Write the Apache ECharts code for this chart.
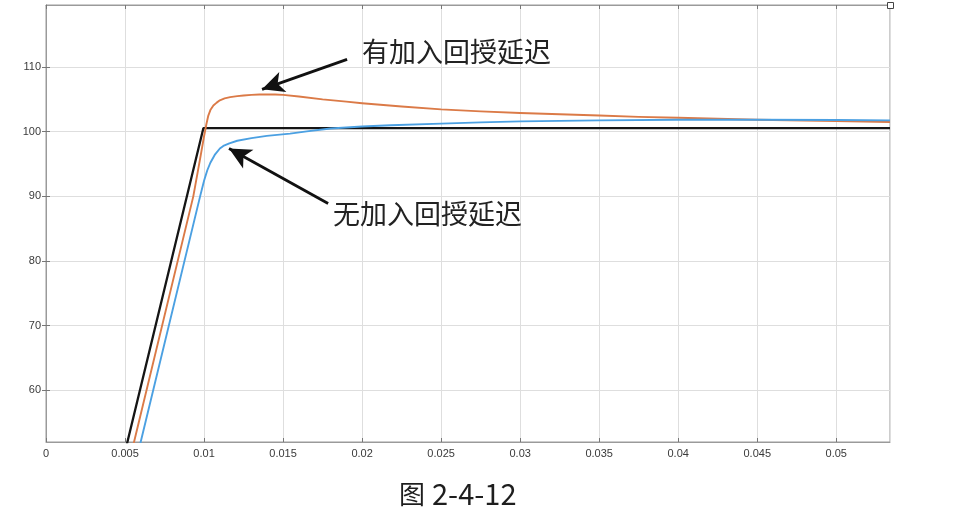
<!DOCTYPE html>
<html>
<head>
<meta charset="utf-8">
<script src="https://cdn.jsdelivr.net/npm/echarts@6/dist/echarts.min.js"></script>
<style>
html,body{margin:0;padding:0;background:#fff;}
#main{width:954px;height:523px;}
</style>
</head>
<body>
<div id="main"></div>
<script>
// ---- data ----
const yTicks = [60, 70, 80, 90, 100, 110];

// reference (black)
const tRef = [0, 0.00996, 0.0534];
const vRef = [0, 100.56, 100.56];

// with feedback delay (orange)
const tDelay = [0.0004, 0.00557, 0.00932, 0.0098, 0.0100, 0.01015, 0.01027, 0.0104, 0.01059, 0.0108, 0.0110, 0.0113, 0.01165, 0.0121, 0.0125, 0.0130, 0.0135, 0.0140, 0.0145, 0.0150, 0.0160, 0.0175, 0.0190, 0.0200, 0.0225, 0.0250, 0.0275, 0.0300, 0.0325, 0.0350, 0.0375, 0.0400, 0.0450, 0.0500, 0.0534];
const vDelay = [0, 52, 90, 96.5, 99.3, 101.2, 102.5, 103.35, 104.05, 104.5, 104.85, 105.15, 105.35, 105.5, 105.6, 105.7, 105.75, 105.78, 105.75, 105.7, 105.45, 105.0, 104.65, 104.4, 103.9, 103.45, 103.15, 102.9, 102.7, 102.5, 102.3, 102.15, 101.85, 101.65, 101.5];

// without feedback delay (blue)
const tNoDelay = [0.0008, 0.00599, 0.00975, 0.0100, 0.0102, 0.0104, 0.0107, 0.0110, 0.01122, 0.0116, 0.0121, 0.0130, 0.01397, 0.01544, 0.0165, 0.0180, 0.0200, 0.0218, 0.0250, 0.0275, 0.0300, 0.0350, 0.0400, 0.0450, 0.0500, 0.0534];
const vNoDelay = [0, 52, 90, 92.4, 94.0, 95.2, 96.5, 97.4, 97.8, 98.2, 98.6, 99.0, 99.35, 99.7, 100.05, 100.5, 100.8, 101.0, 101.25, 101.45, 101.6, 101.75, 101.85, 101.85, 101.8, 101.75];

const labelDelay = '有加入回授延迟';
const labelNoDelay = '无加入回授延迟';
const captionFig = '图';
const captionNum = '2-4-12';

// arrow endpoints in data units [tail, tip]
const arrowDelay = [[0.01905, 111.19], [0.01367, 106.55]];
const arrowNoDelay = [[0.01785, 88.9], [0.01158, 97.41]];

const zip = (a, b) => a.map((v, i) => [v, b[i]]);

const chart = echarts.init(document.getElementById('main'), null, {renderer: 'canvas'});

const axisFont = {fontFamily: 'Liberation Sans, Arial, sans-serif', fontSize: 11, color: '#3a3a3a'};
const gridColor = '#dedede';
const boxColor = '#9a9a9a';

const arrowLine = (pts) => [
  {coord: pts[0], symbol: 'none'},
  {coord: pts[1], symbol: 'arrow', symbolSize: [16, 22]}
];

const option = {
  animation: false,
  backgroundColor: '#fff',
  grid: {left: 46, top: 5, right: 64, bottom: 81, show: true, borderColor: boxColor, borderWidth: 1, backgroundColor: 'transparent'},
  xAxis: [{
    type: 'value', min: 0, max: 0.0534, interval: 0.005,
    axisLine: {show: true, lineStyle: {color: boxColor, width: 1}},
    axisTick: {show: true, inside: true, length: 4, lineStyle: {color: '#777'}},
    axisLabel: {show: true, margin: 6, showMaxLabel: false, ...axisFont},
    splitLine: {show: true, lineStyle: {color: gridColor, width: 1}}
  }, {
    type: 'value', min: 0, max: 0.0534, interval: 0.005, position: 'top',
    axisLine: {show: true, lineStyle: {color: boxColor, width: 1}},
    axisTick: {show: true, inside: true, length: 4, lineStyle: {color: '#777'}},
    axisLabel: {show: false},
    splitLine: {show: false}
  }],
  yAxis: [{
    type: 'value', min: 52, max: 119.6,
    axisLine: {show: true, lineStyle: {color: boxColor, width: 1}},
    axisTick: {show: true, inside: true, length: 4, lineStyle: {color: '#777'}, customValues: yTicks},
    axisLabel: {show: true, margin: 5, customValues: yTicks, ...axisFont},
    splitLine: {show: true, lineStyle: {color: gridColor, width: 1}}
  }, {
    type: 'value', min: 52, max: 119.6, position: 'right',
    axisLine: {show: true, lineStyle: {color: boxColor, width: 1}},
    axisTick: {show: true, inside: true, length: 4, lineStyle: {color: '#777'}, customValues: yTicks},
    axisLabel: {show: false},
    splitLine: {show: false}
  }],
  series: [
    {
      name: 'ref', type: 'line', data: zip(tRef, vRef), showSymbol: false, symbol: 'none',
      lineStyle: {color: '#151515', width: 2.3}, z: 3, clip: true,
      markLine: {
        silent: true, animation: false, label: {show: false},
        lineStyle: {color: '#111', width: 2.8, type: 'solid'},
        emphasis: {disabled: true},
        data: [arrowLine(arrowDelay), arrowLine(arrowNoDelay)]
      }
    },
    {
      name: 'delay', type: 'line', data: zip(tDelay, vDelay), showSymbol: false, symbol: 'none',
      smooth: false,
      lineStyle: {color: '#DB7A47', width: 1.9, join: 'round'}, z: 4, clip: true
    },
    {
      name: 'nodelay', type: 'line', data: zip(tNoDelay, vNoDelay), showSymbol: false, symbol: 'none',
      smooth: false,
      lineStyle: {color: '#4BA0E2', width: 1.9, join: 'round'}, z: 4, clip: true
    }
  ],
  graphic: [
    {type: 'text', left: 362, top: 38, z: 10, style: {text: labelDelay, font: '27px "Noto Sans CJK SC"', fill: '#222'}},
    {type: 'text', left: 333, top: 200, z: 10, style: {text: labelNoDelay, font: '27px "Noto Sans CJK SC"', fill: '#222'}},
    {type: 'text', left: 399, top: 481, z: 10, style: {text: captionFig, font: '26px "Noto Sans CJK SC"', fill: '#1e1e1e'}},
    {type: 'text', left: 432, top: 479, z: 10, style: {text: captionNum, font: '29px "Noto Sans CJK SC"', fill: '#1e1e1e'}},
    {type: 'rect', left: 887, top: 2, z: 10, shape: {width: 6, height: 6}, style: {fill: '#fff', stroke: '#444', lineWidth: 1}}
  ]
};
chart.setOption(option);
</script>
</body>
</html>
